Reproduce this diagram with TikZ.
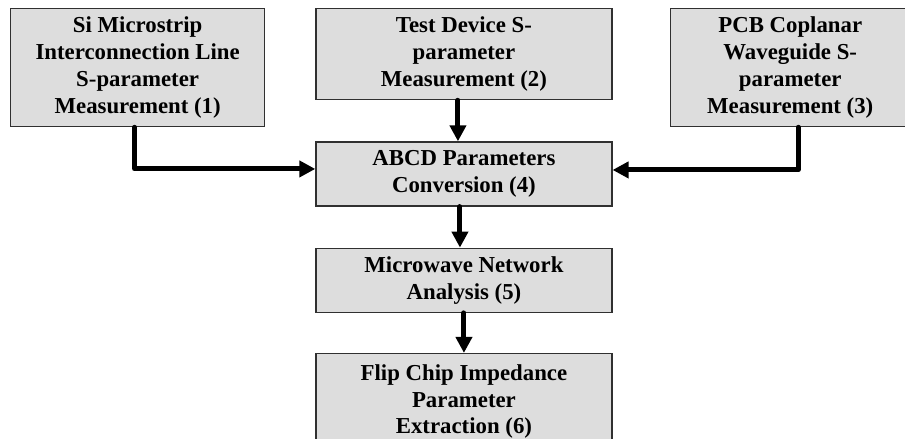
\documentclass[tikz,border=0pt]{standalone}
\usepackage{fontspec}
\setmainfont{Liberation Serif}
\usetikzlibrary{arrows.meta, positioning}
\definecolor{boxfill}{HTML}{DDDDDD}
\definecolor{boxline}{HTML}{303030}

\begin{document}
\begin{tikzpicture}[
  x=1pt, y=-1pt,
  stage/.style={draw=boxline, fill=boxfill, line width=1.3pt, align=center,
    inner sep=0pt, font=\bfseries\fontsize{22.8}{26.8}\selectfont},
  flow/.style={-{Triangle[length=16pt, width=16pt]}, line width=5pt,
    line cap=round, line join=round},
]
\clip (0,0) rectangle (905,439);

% =================== measurements ===================
\node[stage, minimum width=254pt, minimum height=118pt, anchor=north west]
  (meas1) at (10,8) {Si Microstrip\\Interconnection Line\\S-parameter\\Measurement (1)};
\node[stage, minimum width=296pt, minimum height=91pt,
  right=50pt of meas1.north east, anchor=north west]
  (meas2) {Test Device S-\\parameter\\Measurement (2)};
\node[stage, minimum width=240pt, minimum height=118pt,
  right=57pt of meas2.north east, anchor=north west]
  (meas3) {PCB Coplanar\\Waveguide S-\\parameter\\Measurement (3)};

% =================== processing chain ===================
\node[stage, minimum width=296pt, minimum height=64pt, below=41pt of meas2]
  (abcd) {ABCD Parameters\\Conversion (4)};
\node[stage, minimum width=296pt, minimum height=64pt, below=41pt of abcd]
  (mna) {Microwave Network\\Analysis (5)};
\node[stage, minimum width=296pt, minimum height=96pt, below=40pt of mna]
  (extract) {Flip Chip Impedance\\Parameter\\Extraction (6)};

% connectors
\draw[flow] ([xshift=-3pt]meas1.south) |- ([yshift=5pt]abcd.west);
\draw[flow] ([xshift=8pt]meas3.south) |- ([yshift=4pt]abcd.east);
\draw[flow] ([xshift=-6pt]meas2.south) -- ([xshift=-6pt]abcd.north);
\draw[flow] ([xshift=-4pt]abcd.south) -- ([xshift=-4pt]mna.north);
\draw[flow] (mna) -- (extract);

\end{tikzpicture}
\end{document}
